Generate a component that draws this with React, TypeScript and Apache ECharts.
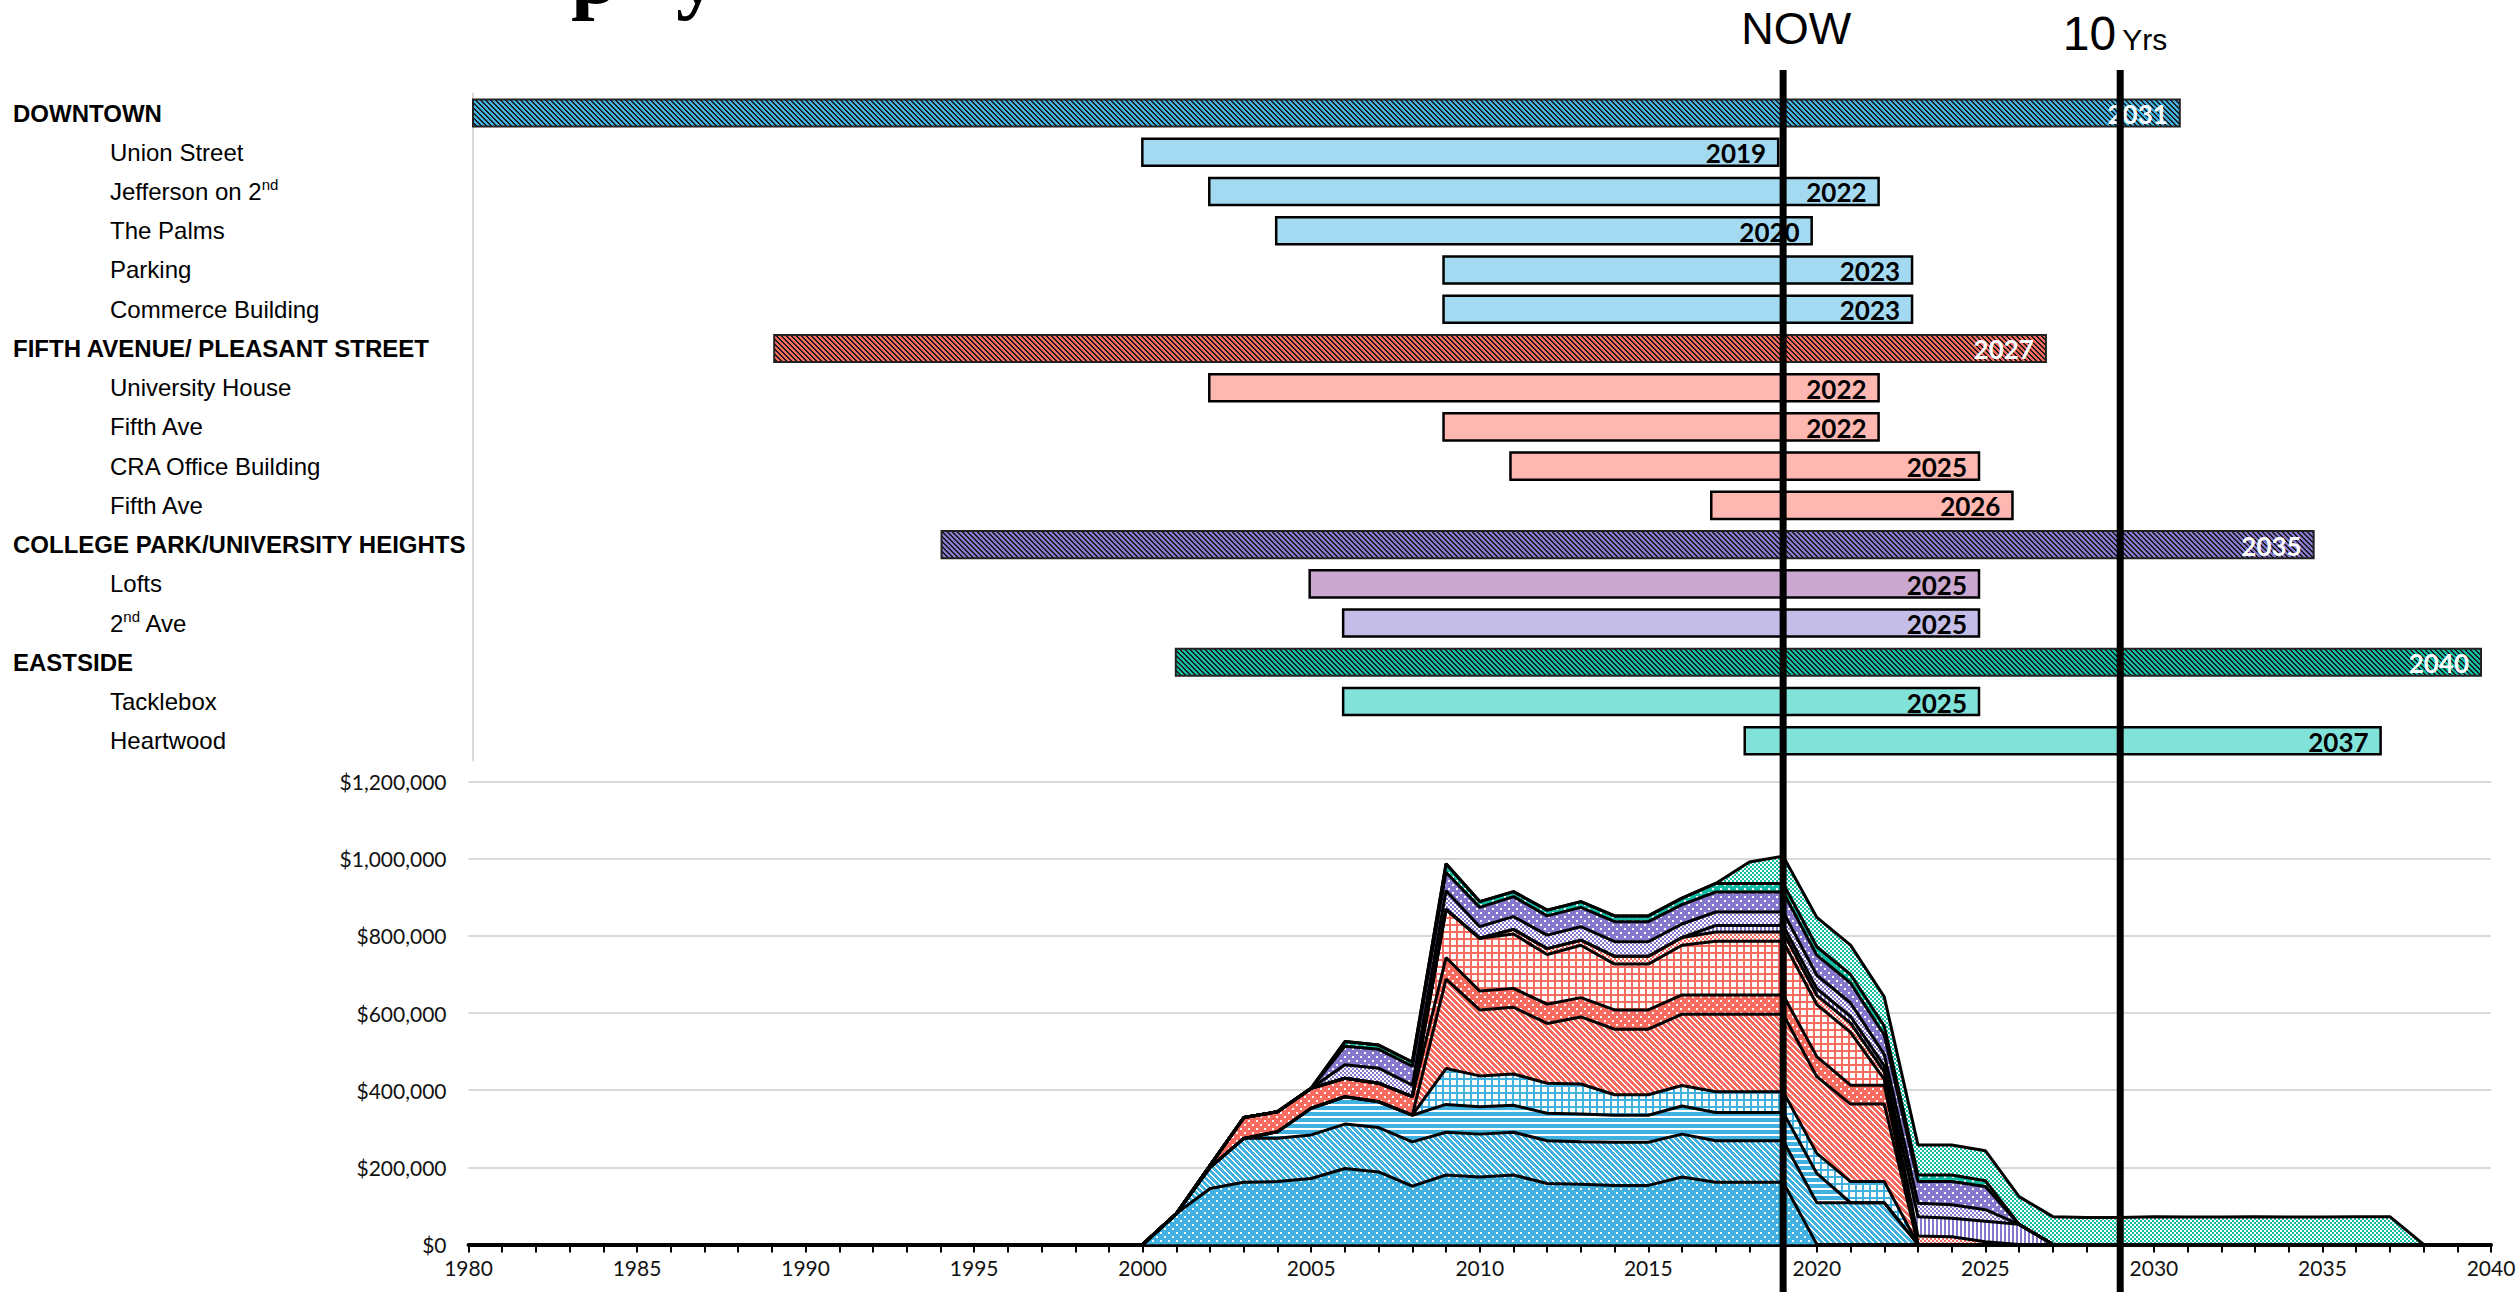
import React, { useEffect, useRef } from 'react';
import * as echarts from 'echarts';

// ---------- Gantt (project timeline) data ----------
const ROW_LABELS = [
  'DOWNTOWN', 'Union Street', 'Jefferson on 2nd', 'The Palms', 'Parking', 'Commerce Building',
  'FIFTH AVENUE/ PLEASANT STREET', 'University House', 'Fifth Ave', 'CRA Office Building', 'Fifth Ave',
  'COLLEGE PARK/UNIVERSITY HEIGHTS', 'Lofts', '2nd Ave',
  'EASTSIDE', 'Tacklebox', 'Heartwood',
];
const ROW_IS_DISTRICT = [1, 0, 0, 0, 0, 0, 1, 0, 0, 0, 0, 1, 0, 0, 1, 0, 0];
const GANTT_START = [1980, 2000, 2002, 2004, 2009, 2009, 1989, 2002, 2009, 2011, 2017, 1994, 2005, 2006, 2001, 2006, 2018];
const GANTT_END = [2031, 2019, 2022, 2020, 2023, 2023, 2027, 2022, 2022, 2025, 2026, 2035, 2025, 2025, 2040, 2025, 2037];

// ---------- Stacked area data (thousands of $, years 2000..2040) ----------
const AREA_FIRST_YEAR = 2000;
const UNION_STREET = [0, 80, 145, 161, 163, 171, 197, 188, 151, 180, 175, 180, 158, 156, 153, 153, 175, 161, 161, 161, 0, 0, 0, 0, 0, 0, 0, 0, 0, 0, 0, 0, 0, 0, 0, 0, 0, 0, 0, 0, 0];
const JEFFERSON = [0, 0, 55, 114, 112, 113, 115, 115, 115, 111, 111, 111, 111, 110, 112, 112, 111, 108, 108, 108, 108, 108, 108, 0, 0, 0, 0, 0, 0, 0, 0, 0, 0, 0, 0, 0, 0, 0, 0, 0, 0];
const THE_PALMS = [0, 0, 0, 0, 17, 69, 71, 67, 69, 72, 71, 70, 71, 72, 70, 70, 73, 73, 73, 73, 76, 0, 0, 0, 0, 0, 0, 0, 0, 0, 0, 0, 0, 0, 0, 0, 0, 0, 0, 0, 0];
const PARKING = [0, 0, 0, 0, 0, 0, 0, 0, 0, 93, 80, 81, 78, 78, 53, 53, 53, 54, 54, 54, 52, 55, 55, 0, 0, 0, 0, 0, 0, 0, 0, 0, 0, 0, 0, 0, 0, 0, 0, 0, 0];
const COMMERCE = [0, 0, 0, 0, 0, 0, 0, 0, 0, 232, 171, 173, 155, 174, 170, 170, 185, 201, 201, 201, 199, 201, 201, 0, 0, 0, 0, 0, 0, 0, 0, 0, 0, 0, 0, 0, 0, 0, 0, 0, 0];
const UNIVERSITY_HOUSE = [0, 0, 5, 54, 52, 52, 48, 48, 48, 56, 49, 49, 50, 50, 50, 50, 50, 50, 50, 50, 52, 49, 49, 0, 0, 0, 0, 0, 0, 0, 0, 0, 0, 0, 0, 0, 0, 0, 0, 0, 0];
const FIFTH_AVE_A = [0, 0, 0, 0, 0, 0, 0, 0, 0, 125, 137, 141, 129, 136, 119, 119, 129, 139, 139, 139, 135, 137, 15, 0, 0, 0, 0, 0, 0, 0, 0, 0, 0, 0, 0, 0, 0, 0, 0, 0, 0];
const CRA_OFFICE = [0, 0, 0, 0, 0, 0, 0, 0, 0, 0, 0, 12, 15, 13, 20, 20, 20, 24, 24, 24, 24, 24, 20, 22, 20, 7, 0, 0, 0, 0, 0, 0, 0, 0, 0, 0, 0, 0, 0, 0, 0];
const FIFTH_AVE_B = [0, 0, 0, 0, 0, 0, 0, 0, 0, 0, 0, 0, 0, 0, 0, 0, 0, 17, 17, 17, 17, 17, 15, 50, 48, 53, 52, 0, 0, 0, 0, 0, 0, 0, 0, 0, 0, 0, 0, 0, 0];
const SECOND_AVE = [0, 0, 0, 0, 0, 0, 35, 39, 30, 48, 30, 33, 35, 35, 38, 38, 35, 35, 35, 35, 35, 35, 30, 35, 35, 30, 0, 0, 0, 0, 0, 0, 0, 0, 0, 0, 0, 0, 0, 0, 0];
const LOFTS = [0, 0, 0, 0, 0, 0, 48, 49, 49, 48, 50, 52, 50, 50, 52, 52, 50, 52, 52, 52, 52, 52, 50, 56, 60, 60, 0, 0, 0, 0, 0, 0, 0, 0, 0, 0, 0, 0, 0, 0, 0];
const TACKLEBOX = [0, 0, 0, 0, 0, 0, 12, 11, 11, 22, 15, 13, 15, 15, 15, 15, 17, 22, 22, 22, 22, 22, 23, 17, 17, 15, 0, 0, 0, 0, 0, 0, 0, 0, 0, 0, 0, 0, 0, 0, 0];
const HEARTWOOD = [0, 0, 0, 0, 0, 0, 0, 0, 0, 0, 0, 0, 0, 0, 0, 0, 0, 0, 56, 71, 76, 76, 76, 78, 78, 78, 72, 72, 70, 70, 72, 71, 71, 72, 71, 71, 72, 72, 0, 0, 0];

const AREA_SERIES = [
  { name: 'Union Street', values: UNION_STREET },
  { name: 'Jefferson on 2nd', values: JEFFERSON },
  { name: 'The Palms', values: THE_PALMS },
  { name: 'Parking', values: PARKING },
  { name: 'Commerce Building', values: COMMERCE },
  { name: 'University House', values: UNIVERSITY_HOUSE },
  { name: 'Fifth Ave', values: FIFTH_AVE_A },
  { name: 'CRA Office Building', values: CRA_OFFICE },
  { name: 'Fifth Ave (2017)', values: FIFTH_AVE_B },
  { name: '2nd Ave', values: SECOND_AVE },
  { name: 'Lofts', values: LOFTS },
  { name: 'Tacklebox', values: TACKLEBOX },
  { name: 'Heartwood', values: HEARTWOOD },
];

// axis categories / ticks
const YEARS: string[] = [];
for (let y = 1980; y <= 2040; y++) YEARS.push(String(y));
const Y_TICKS = [0, 200000, 400000, 600000, 800000, 1000000, 1200000];
const NOW_YEAR = '2019';
const TEN_YEAR = '2029';

// ---------- styles ----------
const BLUE = '#41b1e1';
const RED = '#f96b5f';
const PURPLE = '#8679cd';
const TEAL = '#12bda3';

function tile(size: number, bg: string, fg: string, on: (x: number, y: number) => boolean) {
  const c = document.createElement('canvas');
  c.width = size;
  c.height = size;
  const g = c.getContext('2d')!;
  g.fillStyle = bg;
  g.fillRect(0, 0, size, size);
  g.fillStyle = fg;
  for (let y = 0; y < size; y++) for (let x = 0; x < size; x++) if (on(x, y)) g.fillRect(x, y, 1, 1);
  return { image: c, repeat: 'repeat' } as any;
}
const dots = (c: string) => tile(8, c, '#ffffff', (x, y) => (x < 2 && y < 2) || (x >= 4 && x < 6 && y >= 4 && y < 6));
const diag = (c: string, fg = '#ffffff', p = 6, w = 2) => tile(p, c, fg, (x, y) => (((x - y) % p) + p) % p < w);
const horiz = (c: string) => tile(6, c, '#ffffff', (_x, y) => y < 2);
const grid = (c: string) => tile(7, '#ffffff', c, (x, y) => x < 2 || y < 2);
const check = (c: string) => tile(4, '#ffffff', c, (x, y) => (((x >> 1) + (y >> 1)) % 2) === 0);
const vert = (c: string) => tile(4, '#ffffff', c, (x) => x < 2);

const LABEL_FONT = 'Lato, "Liberation Sans", sans-serif';
const ARIAL = '"Liberation Sans", Arial, sans-serif';

export default function App() {
  const ref = useRef<HTMLDivElement>(null);

  useEffect(() => {
    const chart = echarts.init(ref.current!, null, { renderer: 'svg' });

    const areaFills = [
      dots(BLUE), diag(BLUE), horiz(BLUE), grid(BLUE),
      diag(RED), dots(RED), grid(RED), check(RED),
      vert(PURPLE), check(PURPLE), dots(PURPLE),
      dots(TEAL), check(TEAL),
    ];
    const ganttFill = [
      diag(BLUE, '#1b1b1b', 5, 2), '#a3daf2', '#a3daf2', '#a3daf2', '#a3daf2', '#a3daf2',
      diag(RED, '#1b1b1b', 5, 2), '#ffb7b2', '#ffb7b2', '#ffb7b2', '#ffb7b2',
      diag(PURPLE, '#1b1b1b', 5, 2), '#caa8d0', '#c3bde8',
      diag(TEAL, '#1b1b1b', 5, 2), '#80e2d8', '#80e2d8',
    ];

    const toSeriesData = (vals: number[]) =>
      YEARS.map((y) => {
        const i = Number(y) - AREA_FIRST_YEAR;
        return i < 0 ? 0 : vals[i] * 1000;
      });

    const areaSeries: any[] = AREA_SERIES.map((s, k) => ({
      name: s.name,
      type: 'line',
      xAxisIndex: 1,
      yAxisIndex: 1,
      stack: 'fill',
      symbol: 'none',
      silent: true,
      z: 2,
      lineStyle: { width: 0 },
      areaStyle: { color: areaFills[k], opacity: 1 },
      data: toSeriesData(s.values),
    }));
    const borderSeries: any[] = AREA_SERIES.map((s) => ({
      name: s.name + ' edge',
      type: 'line',
      xAxisIndex: 1,
      yAxisIndex: 1,
      stack: 'edge',
      symbol: 'none',
      silent: true,
      z: 3,
      lineStyle: { width: 3, color: '#000000' },
      data: toSeriesData(s.values),
    }));

    const ganttData = GANTT_START.map((s, i) => [s, GANTT_END[i], i]);

    const labelFor = (i: number) => {
      const text = ROW_LABELS[i];
      if (ROW_IS_DISTRICT[i]) return `{g|${text}}`;
      const m = text.match(/^(.*?)(\d)nd(.*)$/);
      if (m) {
        let out = '{sp| }';
        out += `{i|${m[1]}${m[2]}}`;
        out += '{sup|nd}';
        if (m[3]) out += `{i|${m[3]}}`;
        return out;
      }
      return `{sp| }{i|${text}}`;
    };

    const option: any = {
      animation: false,
      backgroundColor: '#ffffff',
      grid: [
        { left: 473, right: 38, top: 93.4, height: 667 },
        { left: 468.5, right: 28, top: 781.7, bottom: 47.6 },
      ],
      xAxis: [
        { gridIndex: 0, type: 'value', min: 1980, max: 2040, show: false },
        {
          gridIndex: 1,
          type: 'category',
          data: YEARS,
          boundaryGap: false,
          axisLine: { lineStyle: { color: '#000', width: 4 } },
          axisTick: { show: true, interval: 0, length: 8, lineStyle: { color: '#000', width: 2 } },
          axisLabel: { interval: 4, color: '#111', fontFamily: LABEL_FONT, fontSize: 21, margin: 13 },
          splitLine: { show: false },
        },
      ],
      yAxis: [
        {
          gridIndex: 0,
          type: 'category',
          inverse: true,
          data: ROW_LABELS.map((_, i) => String(i)),
          axisLine: { show: true, lineStyle: { color: '#d9d9d9', width: 2 } },
          axisTick: { show: false },
          axisLabel: {
            interval: 0,
            align: 'left',
            margin: 460,
            formatter: (_v: string, idx: number) => labelFor(idx),
            rich: {
              g: { fontFamily: ARIAL, fontWeight: 'bold', fontSize: 24, color: '#000', lineHeight: 28 },
              i: { fontFamily: ARIAL, fontSize: 24, color: '#000', lineHeight: 28 },
              sp: { width: 97, fontSize: 24, lineHeight: 28 },
              sup: { fontFamily: ARIAL, fontSize: 15, color: '#000', lineHeight: 15, verticalAlign: 'top' },
            },
          },
        },
        {
          gridIndex: 1,
          type: 'value',
          min: Y_TICKS[0],
          max: Y_TICKS[Y_TICKS.length - 1],
          interval: Y_TICKS[1] - Y_TICKS[0],
          axisLine: { show: false },
          axisTick: { show: false },
          splitLine: { lineStyle: { color: '#d9d9d9', width: 2 } },
          axisLabel: {
            color: '#111',
            fontFamily: LABEL_FONT,
            fontSize: 21,
            margin: 22,
            formatter: (v: number) => '$' + v.toLocaleString('en-US'),
          },
        },
      ],
      series: [
        ...areaSeries,
        ...borderSeries,
        {
          type: 'custom',
          name: 'Timeline',
          xAxisIndex: 0,
          yAxisIndex: 0,
          silent: true,
          z: 4,
          encode: { x: [0, 1], y: 2 },
          data: ganttData,
          renderItem: (params: any, api: any) => {
            const start = api.value(0);
            const end = api.value(1);
            const row = api.value(2);
            const p0 = api.coord([start, row]);
            const p1 = api.coord([end, row]);
            const h = api.size([0, 1])[1] * 0.69;
            const idx = params.dataIndex;
            const district = ROW_IS_DISTRICT[idx] === 1;
            return {
              type: 'group',
              children: [
                {
                  type: 'rect',
                  shape: { x: p0[0], y: p0[1] - h / 2, width: p1[0] - p0[0], height: h },
                  style: {
                    fill: ganttFill[idx],
                    stroke: district ? '#222' : '#000',
                    lineWidth: district ? 2 : 2.5,
                  },
                },
                {
                  type: 'text',
                  style: {
                    text: String(end),
                    x: p1[0] - 12,
                    y: p0[1] + 1,
                    align: 'right',
                    verticalAlign: 'middle',
                    fill: district ? '#ffffff' : '#000000',
                    font: `bold 26px ${LABEL_FONT}`,
                  },
                },
              ],
            };
          },
        },
      ],
    };

    chart.setOption(option);

    const xNow = chart.convertToPixel({ xAxisIndex: 1 } as any, YEARS.indexOf(NOW_YEAR)) as unknown as number;
    const x10 = chart.convertToPixel({ xAxisIndex: 1 } as any, YEARS.indexOf(TEN_YEAR)) as unknown as number;

    chart.setOption({
      graphic: [
        { type: 'line', z: 100, silent: true, shape: { x1: xNow, y1: 70, x2: xNow, y2: 1292 }, style: { stroke: '#000', lineWidth: 7 } },
        { type: 'line', z: 100, silent: true, shape: { x1: x10, y1: 70, x2: x10, y2: 1292 }, style: { stroke: '#000', lineWidth: 7 } },
        { type: 'text', z: 100, silent: true, x: xNow + 13, y: 28, style: { text: 'NOW', font: `45px ${ARIAL}`, fill: '#000', align: 'center', verticalAlign: 'middle' } },
        { type: 'text', z: 100, silent: true, x: x10 - 4, y: 33.5, style: { text: '10', font: `48px ${ARIAL}`, fill: '#000', align: 'right', verticalAlign: 'middle' } },
        { type: 'text', z: 100, silent: true, x: x10 + 2, y: 39.5, style: { text: 'Yrs', font: `30px ${ARIAL}`, fill: '#000', align: 'left', verticalAlign: 'middle' } },
        { type: 'text', z: 100, silent: true, x: 571, y: -26, style: { text: 'p', font: `bold 85px "Liberation Serif", serif`, fill: '#000', align: 'left', verticalAlign: 'middle' } },
        { type: 'text', z: 100, silent: true, x: 676, y: -26, style: { text: 'y', font: `bold 85px "Liberation Serif", serif`, fill: '#000', align: 'left', verticalAlign: 'middle' } },
      ],
    });

    return () => chart.dispose();
  }, []);

  return <div ref={ref} style={{ position: 'absolute', left: 0, top: 0, width: 2519, height: 1292 }} />;
}
